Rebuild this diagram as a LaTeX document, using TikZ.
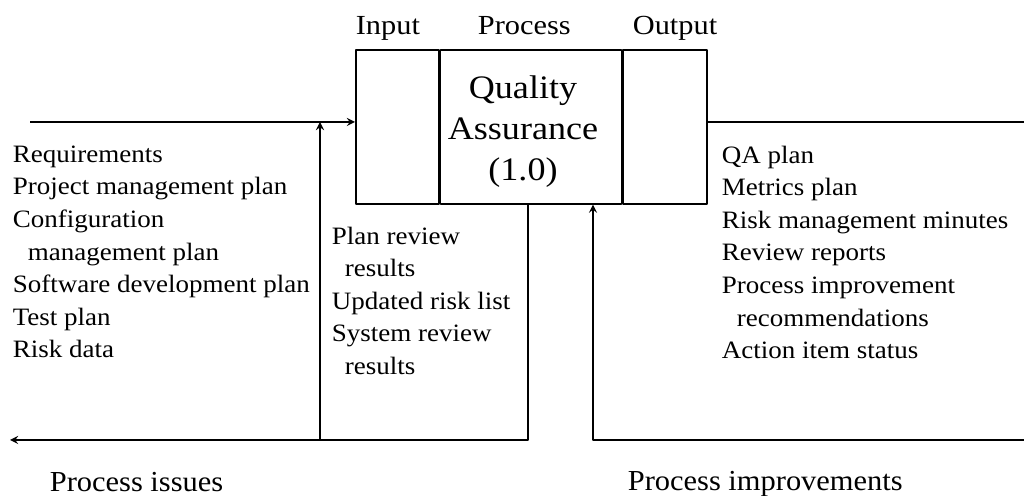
\documentclass[tikz,border=0pt]{standalone}
\usepackage{fontspec}
\setmainfont{Liberation Serif}
\begin{document}
\begin{tikzpicture}[x=0.5pt,y=-0.5pt,line join=round,>=stealth,line width=0.8pt,
	blk/.style={draw,anchor=north west,minimum height=77pt,inner sep=0pt},
	lst/.style={anchor=north west,align=left,inner sep=0pt,xscale=1.08,font=\fontsize{12.5}{16.3}\selectfont},
	hdr/.style={anchor=base west,inner sep=0pt,xscale=1.1,font=\fontsize{13.8}{16}\selectfont},
	btm/.style={anchor=base west,inner sep=0pt,xscale=1.05,font=\fontsize{14.5}{17}\selectfont}]
	\useasboundingbox (0,0) rectangle (1024,496);
	% the process box
	\node[blk,minimum width=41.5pt] (inbox) at (355,49) {};
	\node[blk,minimum width=90.5pt] (procbox) at (inbox.north east) {};
	\node[blk,minimum width=42pt] (outbox) at (procbox.north east) {};
	\node[anchor=north,align=center,inner sep=0pt,xscale=1.1,font=\fontsize{16.4}{20.5}\selectfont] (qa) at (523,75) {Quality\\Assurance\\(1.0)};
	% column titles
	\node[hdr] (intitle) at (355,35) {Input};
	\node[hdr] (proctitle) at (477,35) {Process};
	\node[hdr] (outtitle) at (632,35) {Output};
	% flows
	\coordinate (inL) at (30,122);
	\coordinate (outR) at (1024,122);
	\coordinate (fbL) at (528,440);
	\coordinate (fbLup) at (320,440);
	\coordinate (issEnd) at (10,440);
	\coordinate (fbR) at (1024,440);
	\coordinate (fbRup) at (593,440);
	\draw[->] (inL) -- (inL -| inbox.west);
	\draw (outbox.east |- outR) -- (outR);
	\draw[->] (procbox.south -| fbL) -- (fbL) -- (issEnd);
	\draw[->] (fbLup) -- (fbLup |- inL);
	\draw[->] (fbR) -- (fbRup) -- (fbRup |- procbox.south);
	% lists
	\node[lst] (inputs) at (12,145) {Requirements\\Project management plan\\Configuration\\\hspace*{7pt}management plan\\Software development plan\\Test plan\\Risk data};
	\node[lst] (results) at (331,226) {Plan review\\\hspace*{6pt}results\\Updated risk list\\System review\\\hspace*{6pt}results};
	\node[lst] (outputs) at (721,145) {QA plan\\Metrics plan\\Risk management minutes\\Review reports\\Process improvement\\\hspace*{7pt}recommendations\\Action item status};
	\node[btm] (issues) at (49,492) {Process issues};
	\node[btm] (improve) at (627,491) {Process improvements};
\end{tikzpicture}
\end{document}
